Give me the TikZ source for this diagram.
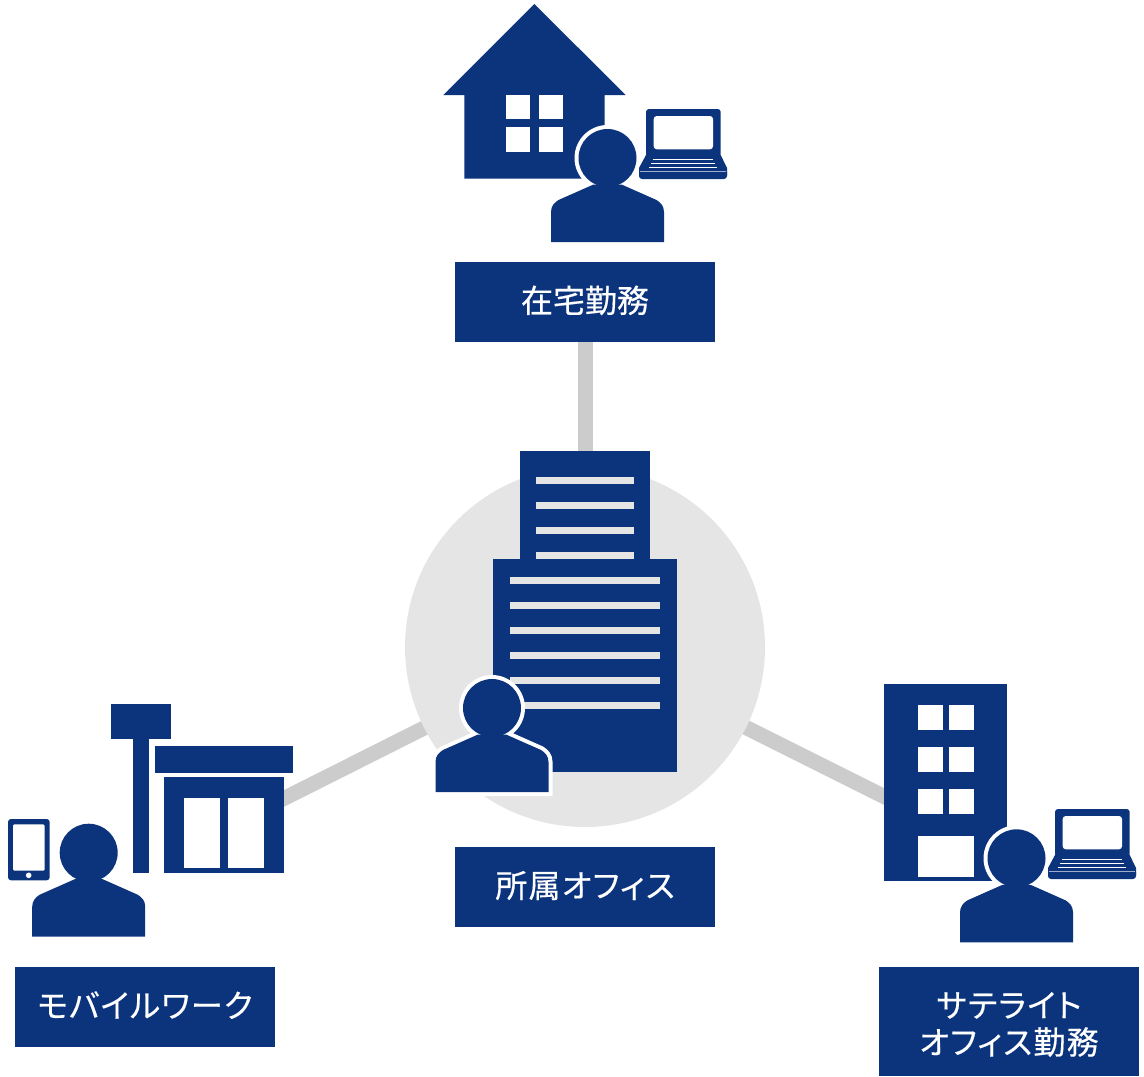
\documentclass[tikz,border=0pt]{standalone}
\usepackage{fontspec}
\newfontfamily\jpfont[FakeBold=0.4,RawFeature={+palt}]{Noto Sans CJK JP}
\newfontfamily\kanafont[FakeBold=0.4,RawFeature={+palt},LetterSpace=4]{Noto Sans CJK JP}
\usetikzlibrary{backgrounds}
\definecolor{navy}{HTML}{0B347D}
\definecolor{hubgray}{HTML}{E5E5E5}
\definecolor{bargray}{HTML}{CCCCCC}
\tikzstyle{solidnavy}=[fill=navy,draw=none]
\tikzstyle{hole}=[fill=white,draw=none]
\tikzstyle{slit}=[fill=hubgray,draw=none]
\tikzstyle{tagbox}=[fill=navy,text=white,font=\kanafont\fontsize{16pt}{18.5pt}\selectfont,minimum width=130pt,inner sep=0pt,align=center]
\tikzstyle{singlebox}=[tagbox,minimum height=40pt,text height=15pt,text depth=4.5pt]
\tikzstyle{bar}=[draw=bargray,line width=7.5pt]
\newcommand{\workerbody}{(-56.5,84) -- (-56.5,54) .. controls (-56.5,48) and (-53,44.5) .. (-49,42) -- (-14,26.5) -- (14,26.5) -- (49,42) .. controls (53,44.5) and (56.5,48) .. (56.5,54) -- (56.5,84) -- cycle}
\tikzset{
  pics/worker/.style={code={
    \fill[hole] (0,0) circle (33);
    \fill[solidnavy] \workerbody;
    \fill[solidnavy] (0,0) circle (29);
  }},
  pics/laptop/.style={code={
    \fill[solidnavy,rounded corners=1.5pt] (0,0) rectangle (74.7,48);
    \fill[hole,rounded corners=1.5pt] (7.7,7) rectangle (67,40.3);
    \fill[solidnavy] (0,46) -- (74.7,46) -- (81,59) -- (81,66) -- (-7,66) -- (-7,59) -- cycle;
    \fill[solidnavy,rounded corners=1.5pt] (-7,60) rectangle (81,70);
    \fill[hole] (6.7,49.6) rectangle (67,50.9);
    \fill[hole] (4.7,53.6) rectangle (69,54.9);
    \fill[hole] (3,57.6) rectangle (71.3,58.9);
    \fill[fill=white,opacity=0.6] (-6,61.6) rectangle (80,62.4);
  }}
}
\begin{document}
\begin{tikzpicture}[x=0.5pt,y=-0.5pt]
        \useasboundingbox (0,0) rectangle (1144,1076);
        \node[circle,fill=hubgray,minimum size=180pt,inner sep=0pt] (hub) at (585,647) {};
        \node[singlebox,font=\jpfont\fontsize{16pt}{18.5pt}\selectfont] (home) at (585,302) {在宅勤務};
        \node[singlebox] (office) at (585,887) {所属オフィス};
        \node[singlebox] (mobile) at (145,1007) {モバイルワーク};
        \node[tagbox,minimum height=54.5pt] (satellite) at (1009,1021.5) {\rule{0pt}{15.5pt}サテライト\\オフィス勤務};
        \coordinate (shop) at (270,805.5);
        \coordinate (tower) at (895,802);
        %
        \begin{pgfonlayer}{background}
            \draw[bar] (home) -- (hub.center);
            \draw[bar] (shop) -- (hub.center);
            \draw[bar] (tower) -- (hub.center);
        \end{pgfonlayer}
        %
        % house
        \fill[solidnavy] (534.3,4) -- (625.7,95) -- (604.7,95) -- (604.7,178.7) -- (464.3,178.7) -- (464.3,95) -- (443.3,95) -- cycle;
        \fill[hole] (506,95.3) rectangle (530.3,119.3);
        \fill[hole] (539,95.3) rectangle (563,119.3);
        \fill[hole] (506,127.3) rectangle (530.3,151.7);
        \fill[hole] (539,127.3) rectangle (563,151.7);
        \pic at (607.5,158) {worker};
        \pic at (646,109) {laptop};
        %
        % office
        \fill[solidnavy] (520,451) rectangle (650,560);
        \fill[slit] (536.3,476.8) rectangle (633.7,484.3);
        \fill[slit] (536.3,501.8) rectangle (633.7,509.3);
        \fill[slit] (536.3,526.8) rectangle (633.7,534.3);
        \fill[slit] (536.3,551.8) rectangle (633.7,559.3);
        \fill[solidnavy] (493.3,559.3) rectangle (676.7,772.3);
        \fill[slit] (509.7,576.7) rectangle (660.3,584.2);
        \fill[slit] (509.7,601.7) rectangle (660.3,609.2);
        \fill[slit] (509.7,626.7) rectangle (660.3,634.2);
        \fill[slit] (509.7,651.7) rectangle (660.3,659.2);
        \fill[slit] (509.7,676.7) rectangle (660.3,684.2);
        \fill[slit] (509.7,701.7) rectangle (660.3,709.2);
        \begin{scope}[shift={(492,708)}]
            \draw[white,line width=4pt,miter limit=10] \workerbody;
            \pic at (0,0) {worker};
        \end{scope}
        %
        % shop
        \fill[solidnavy] (111,704) rectangle (171,739);
        \fill[solidnavy] (132.7,739) rectangle (149.3,872.7);
        \fill[solidnavy] (155.3,745.7) rectangle (293.3,773.3);
        \fill[solidnavy] (164.3,776.7) rectangle (284.3,872.7);
        \fill[hole] (184,798) rectangle (220.3,868.3);
        \fill[hole] (228,798) rectangle (264.3,868.3);
        \fill[solidnavy,rounded corners=1.5pt] (8,819) rectangle (49.7,880.3);
        \fill[hole,rounded corners=0.7pt] (13,824.3) rectangle (44.7,870.7);
        \fill[hole] (28.7,875.3) circle (2.8);
        \pic at (88.7,852.7) {worker};
        %
        % satellite building
        \fill[solidnavy] (884.3,684.3) rectangle (1007.3,880.7);
        \fill[hole] (918,705.3) rectangle (942.7,730.3);
        \fill[hole] (949,705.3) rectangle (974,730.3);
        \fill[hole] (918,747) rectangle (942.7,772);
        \fill[hole] (949,747) rectangle (974,772);
        \fill[hole] (918,789) rectangle (942.7,814);
        \fill[hole] (949,789) rectangle (974,814);
        \fill[hole] (918,835.7) rectangle (974,876.7);
        \pic at (1016.5,858.3) {worker};
        \pic at (1055,809) {laptop};
\end{tikzpicture}
\end{document}
